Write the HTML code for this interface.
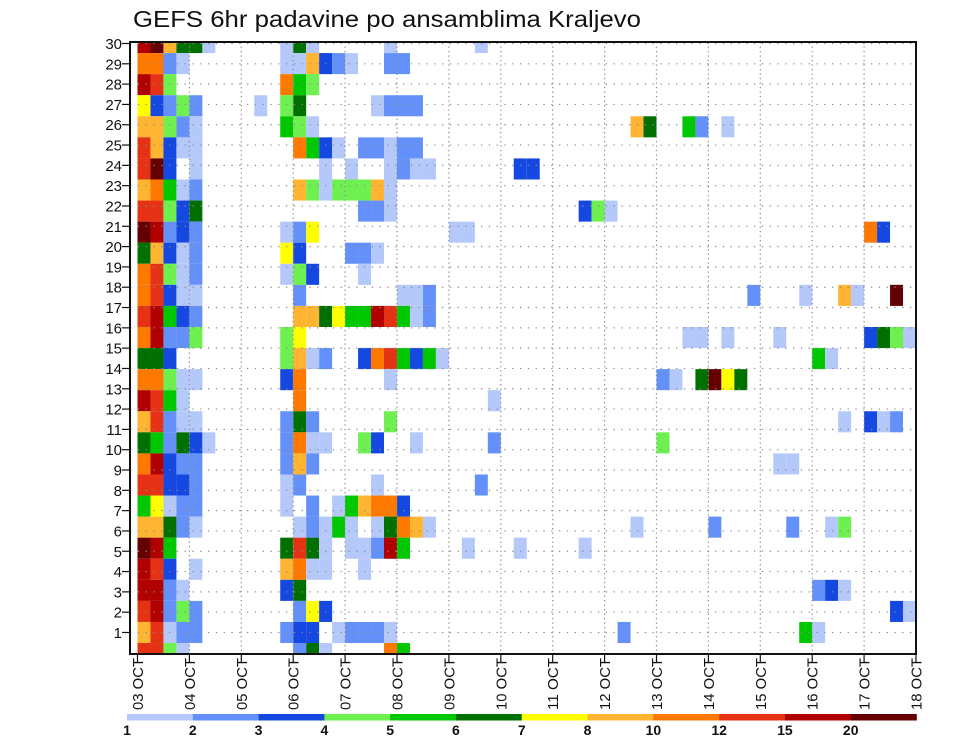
<!DOCTYPE html>
<html><head><meta charset="utf-8"><style>
html,body{margin:0;padding:0;background:#fff;}
svg{display:block;font-family:"Liberation Sans",sans-serif;}
</style></head><body>
<svg id="chart" width="960" height="742" viewBox="0 0 960 742" xmlns="http://www.w3.org/2000/svg">
<rect x="0" y="0" width="960" height="742" fill="#fff"/>
<text x="133" y="27" font-size="23" fill="#111" textLength="508" lengthAdjust="spacingAndGlyphs">GEFS 6hr padavine po ansamblima Kraljevo</text>
<g id="cells"></g>
<g id="grid"></g>
<g id="axes"></g>
<g id="legend"></g>
</svg>
<script>
// ---- data ----
const dayLabels = ["03 OCT","04 OCT","05 OCT","06 OCT","07 OCT","08 OCT","09 OCT","10 OCT","11 OCT","12 OCT","13 OCT","14 OCT","15 OCT","16 OCT","17 OCT","18 OCT"];
const memberLabels = [1,2,3,4,5,6,7,8,9,10,11,12,13,14,15,16,17,18,19,20,21,22,23,24,25,26,27,28,29,30];
const levelLabels = ["1","2","3","4","5","6","7","8","10","12","15","20"];
const levelCodes = "abcdefghijkl";
const levelColors = ["#b4c8fa","#6490fa","#1448e0","#6ef050","#00c800","#007000","#ffff00","#ffb432","#ff7800","#e63214","#b00000","#640000"];
// each row (top to bottom): "column+levelcode" tokens, 6-hour steps from 03 OCT
const rows = [
"0k 1l 2h 3f 4f 5a 11a 12f 13a 19a 26a",
"0i 1i 2b 3a 11a 12a 13h 14c 15b 16a 19b 20b",
"0k 1j 2d 11i 12e 13d",
"0g 1c 2b 3d 4b 9a 11d 12f 18a 19b 20b 21b",
"0h 1h 2d 3b 4a 11e 12d 13a 38h 39f 42e 43b 45a",
"0j 1h 2c 3a 4a 12i 13e 14c 15a 17b 18b 19a 20b 21b",
"0j 1l 2c 4a 14a 16a 19a 20b 21a 22a 29c 30c",
"0h 1i 2e 3a 4b 12h 13d 14a 15d 16d 17d 18h 19a",
"0j 1j 2d 3c 4f 17b 18b 19a 34c 35d 36a",
"0l 1k 2b 3c 4b 11a 12b 13g 24a 25a 56i 57c",
"0f 1h 2c 3a 4b 11g 12c 16b 17b 18a",
"0i 1j 2d 3a 4b 11a 12d 13c 17a",
"0i 1j 2c 3a 4a 12b 20a 21a 22b 47b 51a 54h 55a 58l",
"0j 1k 2e 3c 4b 12h 13h 14f 15g 16e 17e 18k 19j 20e 21a 22b",
"0i 1k 2b 3b 4d 11d 12g 42a 43a 45a 49a 56c 57f 58d 59a",
"0f 1f 2c 11d 12h 13a 14b 17c 18i 19j 20e 21c 22e 23a 52e 53a",
"0i 1i 2d 3a 4a 11c 12i 19a 40b 41a 43f 44l 45g 46f",
"0k 1j 2e 3a 12i 27a",
"0h 1j 2b 3a 4a 11b 12f 13b 19d 54a 56c 57a 58b",
"0f 1e 2b 3f 4c 5a 11b 12i 13a 14a 17d 18c 21a 27b 40d",
"0i 1k 2c 3b 4b 11b 12h 13b 49a 50a",
"0j 1j 2c 3c 4b 11a 12b 18a 26b",
"0e 1g 2a 3b 4b 11a 13b 15a 16e 17h 18i 19i 20c",
"0h 1h 2f 3b 4a 12a 13b 14a 15e 16a 18a 19f 20i 21h 22a 38a 44b 50b 53a 54d",
"0l 1k 2e 11f 12j 13f 14a 16a 17a 18b 19k 20e 25a 29a 34a",
"0k 1j 2c 4a 11h 12i 13a 14a 17a",
"0k 1k 2b 3a 11c 12f 52b 53c 54a",
"0j 1k 2b 3d 4b 12b 13g 14c 58c 59a",
"0h 1j 2a 3b 4b 11b 12c 13c 15a 16b 17b 18b 19a 37b 51e 52a",
"0j 1j 2d 3a 12b 13f 14a 19i 20e"
];
// ---- layout ----
const NS = "http://www.w3.org/2000/svg";
const frame = {l:130, r:916, t:42, b:654};
const x0 = 137.5, x1 = 916, nSteps = (dayLabels.length - 1) * 4;
const stepW = (x1 - x0) / nSteps;
function xStep(c){ return x0 + c * stepW; }
function xDay(d){ return x0 + d * 4 * stepW; }
const rowH = 21.07, rowTop0 = 32;
function yRowTop(k){ return rowTop0 + k * rowH; }
function yMember(m){ return 43.5 + (30 - m) * 20.31; }
function mk(tag, attrs, parent){ const e = document.createElementNS(NS, tag); for (const k in attrs) e.setAttribute(k, attrs[k]); parent.appendChild(e); return e; }

const cells = document.getElementById('cells');
rows.forEach((row, k) => {
  row.split(' ').forEach(tok => {
    const c = parseInt(tok, 10);
    const code = tok.slice(-1);
    const lvl = levelCodes.indexOf(code);
    let yt = Math.max(yRowTop(k), frame.t), yb = Math.min(yRowTop(k) + rowH, frame.b);
    const r = mk('rect', {x: xStep(c).toFixed(2), y: yt.toFixed(2), width: stepW.toFixed(2), height: (yb - yt).toFixed(2), fill: levelColors[lvl]}, cells);
    
    
  });
});

const grid = document.getElementById('grid');
memberLabels.forEach(m => {
  const y = yMember(m);
  const l = mk('line', {x1: frame.l, x2: frame.r, y1: y, y2: y, stroke: '#8a8a8a', 'stroke-width': 1.2, 'stroke-dasharray': '1.3 6.5'}, grid);
  
  
});
dayLabels.forEach((d, i) => {
  if (i === 0 || i === dayLabels.length - 1) return;
  const x = xDay(i);
  const l = mk('line', {x1: x, x2: x, y1: frame.t, y2: frame.b, stroke: '#8a8a8a', 'stroke-width': 1.2, 'stroke-dasharray': '1.3 3.2'}, grid);
  
  
});

const axes = document.getElementById('axes');
const fr = mk('rect', {x: frame.l, y: frame.t, width: frame.r - frame.l, height: frame.b - frame.t, fill: 'none', stroke: '#111', 'stroke-width': 2}, axes);


memberLabels.forEach(m => {
  const y = yMember(m);
  const t = mk('line', {x1: frame.l - 8, x2: frame.l, y1: y, y2: y, stroke: '#111', 'stroke-width': 1.2}, axes);
  
  
  const tx = mk('text', {x: 122, y: y + 5.5, 'font-size': 15, 'text-anchor': 'end', fill: '#111'}, axes);
  tx.textContent = m;
  
  
});
dayLabels.forEach((d, i) => {
  const x = xDay(i);
  const t = mk('line', {x1: x, x2: x, y1: frame.b, y2: frame.b + 8, stroke: '#111', 'stroke-width': 1.2}, axes);
  
  
  const tx = mk('text', {x: 0, y: 0, 'font-size': 15, 'text-anchor': 'end', fill: '#111', textLength: 52, lengthAdjust: 'spacingAndGlyphs', transform: 'translate(' + (x + 5.5).toFixed(2) + ',658) rotate(-90)'}, axes);
  tx.textContent = d;
  
  
});

const legend = document.getElementById('legend');
const lx0 = 127, lw = (916.5 - 127) / levelColors.length;
levelColors.forEach((c, i) => {
  const r = mk('rect', {x: (lx0 + i * lw).toFixed(2), y: 714, width: (lw + 0.3).toFixed(2), height: 6.5, fill: c}, legend);
  
  
  const tx = mk('text', {x: (lx0 + i * lw).toFixed(2), y: 735, 'font-size': 14, 'font-weight': 'bold', 'text-anchor': 'middle', fill: '#111'}, legend);
  tx.textContent = levelLabels[i];
  
  
});
</script>
</body></html>
